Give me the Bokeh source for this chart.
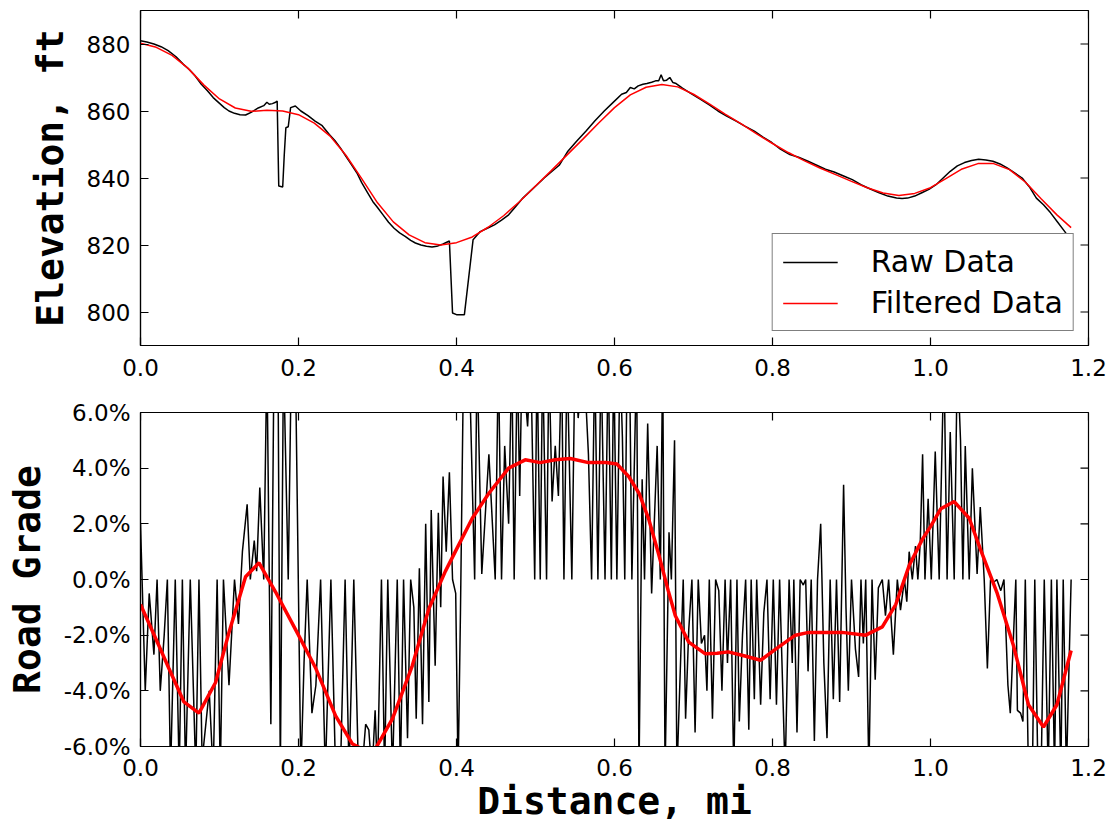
import math
from bokeh.plotting import figure
from bokeh.layouts import column
from bokeh.models import FixedTicker, PrintfTickFormatter
from bokeh.embed import file_html
from bokeh.resources import INLINE

# ---------------- data ----------------
X_RANGE = (0.0, 1.2)
ELEV_RANGE = (790, 890)
GRADE_RANGE = (-6, 6)
X_TICKS = [0.0, 0.2, 0.4, 0.6, 0.8, 1.0, 1.2]
ELEV_TICKS = [800, 820, 840, 860, 880]
GRADE_TICKS = [-6, -4, -2, 0, 2, 4, 6]

raw_elev_dist = [0.000, 0.008, 0.017, 0.026, 0.035, 0.045, 0.054, 0.062, 0.069, 0.077, 0.085, 0.092,
                 0.099, 0.106, 0.112, 0.119, 0.126, 0.133, 0.140, 0.149, 0.156, 0.160, 0.163, 0.167,
                 0.171, 0.173, 0.175, 0.180, 0.182, 0.184, 0.187, 0.190, 0.196, 0.203, 0.212, 0.221,
                 0.230, 0.239, 0.246, 0.253, 0.260, 0.267, 0.274, 0.280, 0.287, 0.294, 0.300, 0.307,
                 0.314, 0.321, 0.328, 0.335, 0.342, 0.348, 0.355, 0.362, 0.369, 0.375, 0.383, 0.391,
                 0.395, 0.400, 0.410, 0.421, 0.430, 0.439, 0.448, 0.457, 0.466, 0.475, 0.484, 0.493,
                 0.502, 0.511, 0.521, 0.530, 0.541, 0.552, 0.564, 0.575, 0.587, 0.598, 0.609, 0.615,
                 0.620, 0.625, 0.630, 0.636, 0.641, 0.647, 0.652, 0.656, 0.659, 0.662, 0.666, 0.670,
                 0.674, 0.678, 0.686, 0.697, 0.709, 0.720, 0.731, 0.742, 0.754, 0.765, 0.777, 0.788,
                 0.799, 0.810, 0.822, 0.833, 0.845, 0.856, 0.867, 0.878, 0.890, 0.901, 0.912, 0.923,
                 0.935, 0.946, 0.957, 0.964, 0.971, 0.980, 0.989, 0.998, 1.007, 1.016, 1.025, 1.034,
                 1.043, 1.052, 1.061, 1.070, 1.079, 1.088, 1.097, 1.106, 1.116, 1.125, 1.134, 1.143,
                 1.152, 1.161, 1.170, 1.176]
raw_elev = [881.0, 880.6, 880.0, 879.2, 878.0, 876.2, 874.0, 872.3, 870.5, 868.0, 866.0, 864.0,
            862.5, 861.0, 860.0, 859.3, 858.9, 858.8, 859.6, 860.9, 861.6, 862.6, 862.0, 862.2,
            862.6, 863.0, 837.6, 837.3, 847.0, 855.0, 855.3, 861.0, 861.5, 860.0, 858.6, 857.0,
            855.6, 853.0, 851.2, 849.0, 846.5, 844.0, 841.5, 838.6, 835.8, 833.0, 831.2, 829.0,
            826.8, 825.0, 823.6, 822.6, 821.4, 820.6, 820.0, 819.6, 819.4, 819.6, 820.3, 821.2,
            799.7, 799.2, 799.2, 821.6, 824.0, 825.0, 826.0, 827.4, 829.0, 831.5, 834.0, 836.0,
            838.0, 840.0, 842.0, 843.8, 848.0, 851.0, 854.0, 857.0, 860.0, 862.5, 865.0, 865.5,
            867.0, 866.6, 867.5, 868.0, 868.2, 868.6, 869.0, 869.0, 870.8, 869.0, 869.2, 870.0,
            868.5, 868.2, 866.8, 865.2, 863.5, 861.8, 860.0, 858.5, 857.0, 855.5, 854.0, 852.2,
            850.6, 848.6, 847.0, 846.2, 845.0, 843.8, 842.6, 841.8, 840.6, 839.5, 838.0, 836.8,
            835.6, 834.6, 834.0, 833.9, 834.0, 834.6, 835.6, 836.6, 838.0, 840.0, 842.0, 843.6,
            844.6, 845.2, 845.6, 845.4, 845.0, 844.2, 843.0, 841.6, 840.0, 837.4, 834.0, 832.0,
            829.6, 826.8, 824.0, 822.0]

filt_elev_dist = [0.000, 0.020, 0.040, 0.060, 0.080, 0.100, 0.120, 0.140, 0.160, 0.180, 0.200,
                  0.220, 0.240, 0.260, 0.280, 0.300, 0.320, 0.340, 0.360, 0.380, 0.400, 0.420,
                  0.440, 0.460, 0.480, 0.500, 0.520, 0.540, 0.560, 0.580, 0.600, 0.620, 0.640,
                  0.660, 0.680, 0.700, 0.720, 0.740, 0.760, 0.780, 0.800, 0.820, 0.840, 0.860,
                  0.880, 0.900, 0.920, 0.940, 0.960, 0.980, 1.000, 1.020, 1.040, 1.060, 1.080,
                  1.100, 1.120, 1.140, 1.160, 1.178]
filt_elev = [880.2, 879.0, 876.6, 872.8, 867.8, 863.6, 860.9, 859.9, 860.2, 860.0, 858.9,
             856.4, 852.5, 846.8, 839.8, 832.6, 826.9, 823.0, 820.7, 820.0, 820.7, 822.4,
             825.3, 828.8, 833.0, 837.6, 842.2, 846.9, 851.6, 856.4, 861.0, 864.8, 867.1,
             867.9, 867.2, 865.0, 862.1, 859.1, 856.2, 853.2, 850.3, 847.6, 845.2, 843.0,
             841.0, 839.0, 837.1, 835.5, 834.8, 835.4, 837.1, 839.9, 842.7, 844.3, 844.3,
             842.5, 838.8, 833.8, 829.0, 825.2]

raw_grade_dist = [0.000, 0.006, 0.011, 0.013, 0.017, 0.021, 0.025, 0.030, 0.034, 0.038, 0.044, 0.049,
                  0.053, 0.057, 0.063, 0.070, 0.074, 0.078, 0.087, 0.092, 0.097, 0.101, 0.105, 0.112,
                  0.119, 0.124, 0.129, 0.135, 0.139, 0.144, 0.147, 0.151, 0.156, 0.160, 0.165, 0.169,
                  0.174, 0.177, 0.181, 0.187, 0.191, 0.196, 0.203, 0.207,
                  0.211, 0.217, 0.222, 0.228, 0.234, 0.241, 0.247, 0.253, 0.259, 0.264, 0.270, 0.276,
                  0.280, 0.285, 0.289, 0.293, 0.297, 0.300, 0.305, 0.309, 0.313, 0.319, 0.325, 0.329,
                  0.333, 0.338, 0.342, 0.346, 0.349, 0.353, 0.357, 0.361, 0.365, 0.368, 0.373, 0.377,
                  0.380, 0.383, 0.387, 0.391, 0.395, 0.399, 0.402, 0.405, 0.409,
                  0.416, 0.423, 0.426, 0.432, 0.441, 0.449, 0.453, 0.457, 0.461, 0.466, 0.470, 0.473,
                  0.477, 0.480, 0.483, 0.490, 0.494, 0.499, 0.502, 0.506, 0.509, 0.514, 0.517, 0.521,
                  0.525, 0.529, 0.533, 0.536, 0.540, 0.546, 0.550, 0.554, 0.561, 0.567, 0.571, 0.575,
                  0.579, 0.583, 0.588, 0.592, 0.596, 0.599, 0.603, 0.607,
                  0.610, 0.613, 0.616, 0.619, 0.622, 0.628, 0.631, 0.635, 0.638, 0.642, 0.647, 0.654,
                  0.658, 0.661, 0.664, 0.669, 0.672, 0.676, 0.679, 0.683, 0.687, 0.690, 0.694, 0.698,
                  0.702, 0.706, 0.710, 0.714, 0.717, 0.720, 0.724, 0.728, 0.732, 0.736, 0.740, 0.743,
                  0.747, 0.751, 0.755, 0.758, 0.762, 0.766, 0.770, 0.773, 0.777, 0.780, 0.785, 0.789,
                  0.793, 0.797, 0.801, 0.805, 0.809,
                  0.816, 0.821, 0.825, 0.827, 0.831, 0.835, 0.839, 0.842, 0.845, 0.849, 0.853, 0.857,
                  0.861, 0.865, 0.869, 0.873, 0.877, 0.881, 0.885, 0.890, 0.893, 0.896, 0.900, 0.905,
                  0.909, 0.912, 0.915, 0.918, 0.922, 0.926, 0.930, 0.934, 0.939, 0.943, 0.947, 0.953,
                  0.958, 0.962, 0.967, 0.970, 0.973, 0.977, 0.981, 0.984, 0.987, 0.990, 0.993, 0.997,
                  1.001, 1.006, 1.011,
                  1.017, 1.021, 1.025, 1.030, 1.034, 1.038, 1.041, 1.044, 1.049, 1.053, 1.059, 1.063,
                  1.068, 1.072, 1.076, 1.080, 1.084, 1.089, 1.093, 1.098, 1.101, 1.108, 1.110, 1.114,
                  1.117, 1.120, 1.124, 1.129, 1.132, 1.136, 1.140, 1.144, 1.149, 1.153, 1.157, 1.160,
                  1.165, 1.168, 1.172, 1.178]
raw_grade = [2.0, -4.0, -0.5, -1.2, -2.7, 0.0, -4.0, -2.0, 0.0, -7.0, 0.0, -7.0,
             0.0, -7.0, 0.0, -7.0, 0.0, -6.5, -4.0, -7.0, 0.0, -7.0, 0.0, -3.8,
             0.0, -1.6, 1.0, 2.7, 0.0, 1.4, 0.3, 3.3, 0.0, 8.0, -5.2, 8.0,
             8.0, -7.0, 8.0, 0.0, 8.0, 8.0, -7.0, -3.0,
             0.0, -4.8, -3.8, 0.0, -7.0, 0.0, -7.0, -7.0, 0.0, -7.0, 0.0, -7.0,
             -7.0, -5.2, -5.4, -7.0, -4.7, -7.0, 0.0, -7.0, 0.0, -7.0, 0.0, -7.0,
             0.0, -5.7, 0.0, -1.0, -5.0, 0.4, -5.2, 2.0, -4.4, 2.5, -3.1, 2.4,
             -1.0, 3.7, 1.0, 3.85, 0.0, -0.5, -7.0, -1.2, 8.0,
             8.0, 0.0, 8.0, 0.2, 4.5, 0.0, 8.0, 0.0, 4.8, 2.0, 8.0, 0.0,
             8.0, 3.0, 8.0, 5.5, 8.0, 0.0, 8.0, 0.0, 8.0, 0.0, 8.0, 2.8,
             4.8, 3.0, 8.0, 0.0, 8.0, 0.0, 8.0, 5.8, 8.0, 4.5, 0.0, 8.0,
             0.0, 8.0, 0.0, 8.0, 0.0, 8.0, 0.0, 8.0,
             5.1, 0.0, 8.0, 8.0, 0.0, 8.0, -7.0, 3.6, 0.0, 5.6, -0.5, 4.8,
             0.0, 8.0, -7.0, 1.7, 0.0, 5.0, -7.0, -3.5, 0.0, -5.0, -1.8, 0.0,
             -5.5, 0.0, -2.3, -2.0, -4.0, 0.0, -5.0, 0.0, -0.4, -4.0, 0.0, -3.0,
             0.0, -7.0, 0.0, -5.1, -2.0, 0.0, -5.4, 0.0, -4.3, 0.0, -4.5, -1.2,
             0.0, -4.3, 0.0, -4.5, 0.0,
             -7.0, 0.0, -3.0, 0.0, -5.5, 0.0, -0.2, 0.0, -3.3, 0.0, -5.8, 0.0,
             2.0, -3.0, -5.7, 0.0, -4.3, 0.0, -4.4, 3.4, -1.0, -4.0, 0.0, -2.5,
             -3.5, 0.0, -2.3, 0.0, -7.0, 0.0, -3.6, -0.3, 0.0, -1.3, 0.0, -2.7,
             0.0, -1.1, 0.0, -0.8, 1.0, 0.0, 1.2, 0.0, 1.3, 4.5, 0.0, 2.9,
             0.0, 4.6, 0.0,
             8.0, 0.0, 5.3, 0.0, 8.0, 5.0, 0.0, 4.8, 0.0, 4.0, 0.2, 2.6,
             0.0, -3.2, 0.0, -0.1, 0.0, -0.4, 0.0, -3.8, -4.8, 0.0, -4.7, -4.8,
             -5.1, 0.0, -7.0, -7.0, 0.0, -7.0, -7.0, 0.0, -7.0, 0.0, -7.0, 0.0,
             -7.0, 0.0, -7.0, 0.0]

filt_grade_dist = [0.000, 0.019, 0.036, 0.055, 0.074, 0.095, 0.112, 0.133, 0.150, 0.171, 0.200,
                   0.222, 0.247, 0.268, 0.281, 0.297, 0.319, 0.344, 0.365, 0.386, 0.402, 0.420,
                   0.441, 0.466, 0.487, 0.506, 0.525, 0.544, 0.567, 0.589, 0.603, 0.618, 0.631,
                   0.643, 0.656, 0.668, 0.677, 0.694, 0.715, 0.730, 0.744, 0.765, 0.785, 0.804,
                   0.829, 0.846, 0.888, 0.918, 0.939, 0.956, 0.973, 0.990, 1.000, 1.013, 1.030,
                   1.049, 1.063, 1.084, 1.105, 1.124, 1.143, 1.160, 1.178]
filt_grade = [-0.9, -2.1, -3.2, -4.4, -4.8, -3.7, -1.9, 0.1, 0.6, -0.45, -2.0,
              -3.2, -4.9, -5.9, -6.1, -6.1, -5.0, -3.1, -1.05, 0.3, 1.2, 2.2,
              3.1, 4.0, 4.3, 4.2, 4.3, 4.35, 4.2, 4.2, 4.15, 3.7, 3.1,
              2.2, 0.9, -0.4, -1.3, -2.25, -2.67, -2.65, -2.6, -2.75, -2.9, -2.5,
              -2.0, -1.9, -1.9, -2.0, -1.7, -0.9, 0.5, 1.46, 1.9, 2.54, 2.8,
              2.2, 1.1, -0.46, -2.37, -4.5, -5.3, -4.5, -2.55]

# ---------------- styling helpers ----------------
TICK_FONT = "DejaVu Sans"
LABEL_FONT = "DejaVu Sans Mono"
TICK_LEN = 8


def style_axis(ax, ticks, fmt, label_standoff):
    ax.ticker = FixedTicker(ticks=ticks)
    ax.formatter = PrintfTickFormatter(format=fmt)
    ax.major_tick_in = TICK_LEN
    ax.major_tick_out = 0
    ax.minor_tick_in = 0
    ax.minor_tick_out = 0
    ax.major_tick_line_color = "black"
    ax.major_tick_line_width = 1.2
    ax.axis_line_color = "black"
    ax.axis_line_width = 1.2
    ax.major_label_text_font = TICK_FONT
    ax.major_label_text_color = "black"
    ax.major_label_text_font_size = "23px"
    ax.major_label_standoff = label_standoff
    ax.axis_label_text_font = LABEL_FONT
    ax.axis_label_text_font_style = "bold"
    ax.axis_label_text_font_size = "38px"
    ax.axis_label_text_color = "black"


def make_fig(height, y_range, border_top, border_bottom):
    p = figure(width=1113, height=height, x_range=X_RANGE, y_range=y_range,
               output_backend="svg", toolbar_location=None,
               min_border_left=140, min_border_right=25,
               min_border_top=border_top, min_border_bottom=border_bottom)
    p.grid.visible = False
    p.outline_line_color = "black"
    p.outline_line_width = 1.2
    p.background_fill_color = "white"
    p.border_fill_color = "white"
    return p


def mirror_ticks(p, y_range, y_ticks):
    # inward tick marks on the top and right edges of the frame (no labels)
    p.ray(x=X_TICKS, y=[y_range[1]] * len(X_TICKS), length=TICK_LEN, length_units="screen",
          angle=-math.pi / 2, line_color="black", line_width=1.2)
    p.ray(x=[X_RANGE[1]] * len(y_ticks), y=y_ticks, length=TICK_LEN, length_units="screen",
          angle=math.pi, line_color="black", line_width=1.2)


# ---------------- top panel: elevation ----------------
p1 = make_fig(386, ELEV_RANGE, 10, 41)
p1.line(raw_elev_dist, raw_elev, line_color="black", line_width=1.5, legend_label="Raw Data")
p1.line(filt_elev_dist, filt_elev, line_color="red", line_width=1.5, legend_label="Filtered Data")
mirror_ticks(p1, ELEV_RANGE, ELEV_TICKS)

style_axis(p1.xaxis[0], X_TICKS, "%.1f", 13)
style_axis(p1.yaxis[0], ELEV_TICKS, "%d", 10)
p1.yaxis[0].axis_label = "Elevation, ft"
p1.yaxis[0].axis_label_standoff = 12

lg = p1.legend[0]
lg.location = "bottom_right"
lg.margin = 14
lg.padding = 10
lg.spacing = 6
lg.border_line_color = "black"
lg.border_line_width = 1.2
lg.background_fill_color = "white"
lg.background_fill_alpha = 1.0
lg.label_text_font = TICK_FONT
lg.label_text_font_size = "30px"
lg.label_text_color = "black"
lg.glyph_width = 55
lg.glyph_height = 30
lg.label_height = 30
lg.label_standoff = 33

# ---------------- bottom panel: road grade ----------------
p2 = make_fig(440, GRADE_RANGE, 26, 80)
p2.line(raw_grade_dist, raw_grade, line_color="black", line_width=1.5)
p2.line(filt_grade_dist, filt_grade, line_color="red", line_width=3.5)
mirror_ticks(p2, GRADE_RANGE, GRADE_TICKS)

style_axis(p2.xaxis[0], X_TICKS, "%.1f", 12)
p2.xaxis[0].axis_label = "Distance, mi"
p2.xaxis[0].axis_label_standoff = 0
style_axis(p2.yaxis[0], GRADE_TICKS, "%.1f%%", 10)
p2.yaxis[0].axis_label = "Road Grade"
p2.yaxis[0].axis_label_standoff = 12

layout = column(p1, p2, spacing=0)
open("out.html", "w").write(file_html(layout, INLINE))
